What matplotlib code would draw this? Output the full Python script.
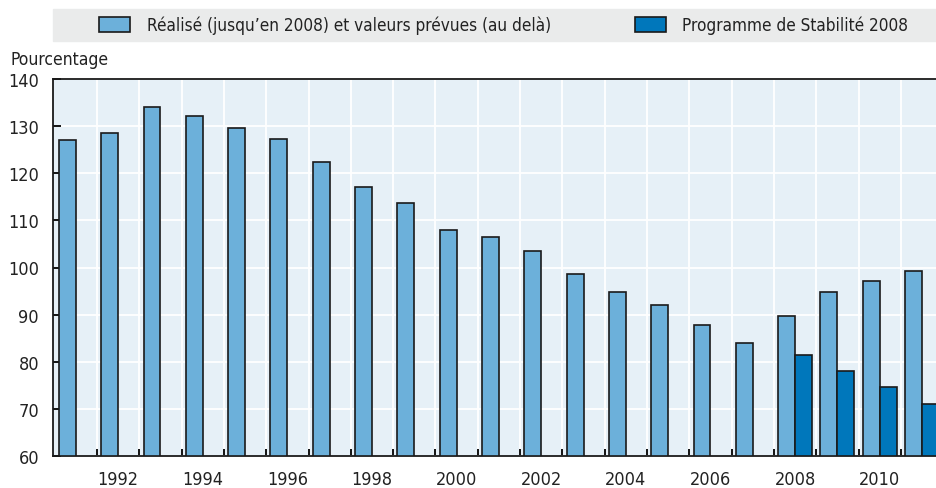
import matplotlib.pyplot as plt
import matplotlib.patches as mpatches
import numpy as np

# Données (dette en pourcentage)
annees = list(range(1991, 2012))
realise = [127.0, 128.6, 134.1, 132.1, 129.7, 127.3, 122.4, 117.1, 113.7, 107.9,
           106.5, 103.5, 98.6, 94.7, 92.0, 87.8, 83.9, 89.8, 94.7, 97.1, 99.3]
annees_ps = [2008, 2009, 2010, 2011]
programme = [81.5, 78.0, 74.7, 71.1]
labels_x = [str(a) for a in range(1992, 2011, 2)]

label_realise = "Réalisé (jusqu\u2019en 2008) et valeurs prévues (au delà)"
label_programme = "Programme de Stabilité 2008"

col_clair = "#6cb0da"
col_fonce = "#0077bb"
col_fond = "#e6f0f7"

plt.rcParams['font.family'] = ['DejaVu Sans']
plt.rcParams['font.stretch'] = 'condensed'
plt.rcParams['font.size'] = 13

fig = plt.figure(figsize=(9.36, 4.89), dpi=100)
ax = fig.add_axes([53/936, 1 - 457/489, 1 - 53/936, (457 - 80)/489])
ax.set_facecolor(col_fond)

x = np.arange(len(annees))
x_ps = np.array([annees.index(a) for a in annees_ps])
larg = 0.4

ax.bar(x - 0.2, np.array(realise) - 60, width=larg, bottom=60, color=col_clair,
       edgecolor="#1a1a1a", linewidth=1.2, zorder=3)
ax.bar(x_ps + 0.2, np.array(programme) - 60, width=larg, bottom=60, color=col_fonce,
       edgecolor="#1a1a1a", linewidth=1.2, zorder=3)

ax.set_xlim(-0.54, 20.33)
ax.set_ylim(60, 140)
ax.set_yticks(range(60, 141, 10))

# graduations aux limites des catégories, étiquettes au centre des années paires
ax.set_xticks(x[1:] - 0.5)
ax.set_xticklabels([])
ax.set_xticks([annees.index(int(l)) for l in labels_x], minor=True)
ax.set_xticklabels(labels_x, minor=True)
ax.tick_params(axis='x', which='major', direction='in', length=5, width=1.3, color='black')
ax.tick_params(axis='x', which='minor', length=0, pad=10, labelsize=13, labelcolor='#222222')
ax.tick_params(axis='y', direction='in', length=6, width=1.3, pad=10, labelsize=13,
               labelcolor='#222222')

ax.grid(True, which='major', color='white', linewidth=1.3)
ax.set_axisbelow(True)

for s in ['left', 'bottom', 'top']:
    ax.spines[s].set_color('#1a1a1a')
    ax.spines[s].set_linewidth(1.3)
ax.spines['right'].set_visible(False)

fig.text(10/936, 1 - 60/489, "Pourcentage", fontsize=12.5, color='#222222', va='center', ha='left')

# légende
fig.add_artist(mpatches.Rectangle((53/936, 1 - 42/489), 1 - 53/936, 32/489,
                                  transform=fig.transFigure, color='#eaebeb', zorder=0))
fig.add_artist(mpatches.Rectangle((99/936, 1 - 33/489), 31/936, 15/489,
                                  transform=fig.transFigure, facecolor=col_clair,
                                  edgecolor='#1a1a1a', linewidth=1.2))
fig.text(147/936, 1 - 26/489, label_realise, fontsize=12.3, color='#222222', va='center')
fig.add_artist(mpatches.Rectangle((635/936, 1 - 33/489), 31/936, 15/489,
                                  transform=fig.transFigure, facecolor=col_fonce,
                                  edgecolor='#1a1a1a', linewidth=1.2))
fig.text(682/936, 1 - 26/489, label_programme, fontsize=12.3, color='#222222', va='center')

plt.savefig("out.png", dpi=100)
plt.close()
